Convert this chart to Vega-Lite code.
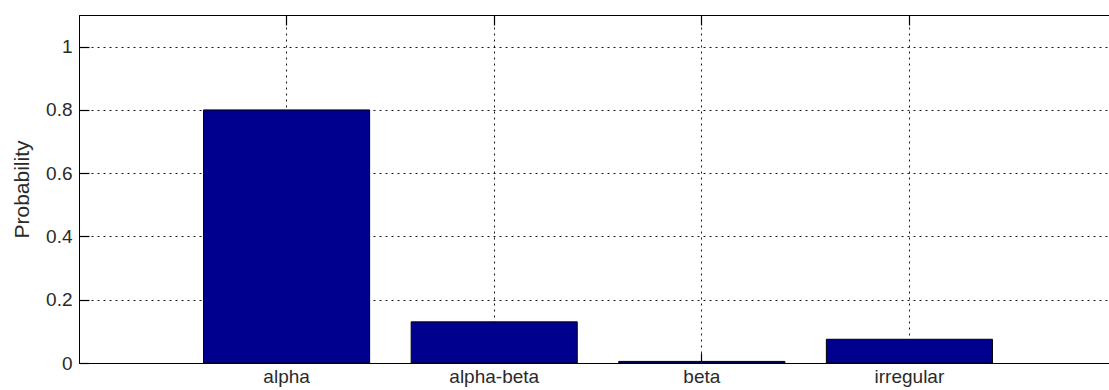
{
  "$schema": "https://vega.github.io/schema/vega-lite/v6.json",
  "width": 1038,
  "height": 348,
  "autosize": {"type": "none"},
  "padding": {"left": 79, "top": 15, "right": 0, "bottom": 27},
  "background": "white",
  "config": {
    "view": {"stroke": "black", "strokeWidth": 1},
    "font": "Liberation Sans",
    "axis": {
      "labelFont": "Liberation Sans",
      "titleFont": "Liberation Sans",
      "labelColor": "#2a2a2a",
      "titleColor": "#2a2a2a",
      "domainColor": "black",
      "tickColor": "black",
      "tickWidth": 1.2,
      "gridColor": "black",
      "gridDash": [2, 4],
      "gridOpacity": 0.9,
      "gridWidth": 1
    }
  },
  "data": {
    "values": [
      {"type": "alpha", "p": 0.8},
      {"type": "alpha-beta", "p": 0.13},
      {"type": "beta", "p": 0.005},
      {"type": "irregular", "p": 0.075}
    ]
  },
  "layer": [
    {
      "mark": {"type": "bar", "fill": "#00008F", "stroke": "black", "strokeWidth": 1},
      "encoding": {
        "x": {
          "field": "type", "type": "nominal", "sort": null,
          "scale": {"paddingInner": 0.2, "paddingOuter": 0.6},
          "axis": {
            "orient": "bottom", "title": null, "labelAngle": 0,
            "bandPosition": 0.5, "grid": true, "tickSize": -10,
            "labelPadding": 14, "labelFontSize": 19, "domainWidth": 1
          }
        },
        "y": {
          "field": "p", "type": "quantitative",
          "scale": {"domain": [0, 1.1], "nice": false},
          "axis": {
            "values": [0, 0.2, 0.4, 0.6, 0.8, 1], "format": "~g",
            "title": "Probability", "titleFontSize": 21, "titleFontWeight": "normal",
            "titlePadding": 13, "grid": true, "tickSize": -10, "labelPadding": 17,
            "labelFontSize": 19
          }
        }
      }
    },
    {
      "mark": {"type": "tick", "opacity": 0},
      "encoding": {
        "x": {
          "field": "type", "type": "nominal", "sort": null,
          "axis": {"orient": "top", "title": null, "labels": false, "bandPosition": 0.5, "tickSize": -10, "grid": false}
        }
      }
    }
  ],
  "resolve": {"axis": {"x": "independent"}}
}
